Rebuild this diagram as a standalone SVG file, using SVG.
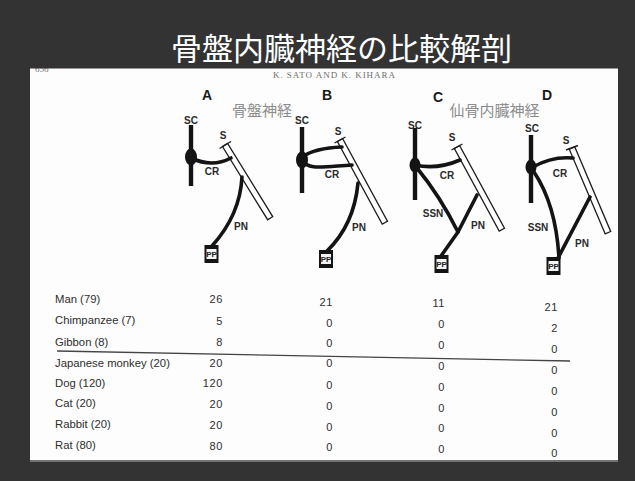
<svg xmlns="http://www.w3.org/2000/svg" width="635" height="481" viewBox="0 0 635 481">
  <defs>
    <style>
      .nerve { fill: none; stroke: #141414; stroke-width: 3.6; stroke-linecap: round; stroke-linejoin: round; }
      .cord { fill: none; stroke: #141414; stroke-width: 4.4; stroke-linecap: butt; }
      .gang { fill: #141414; }
      .bar { fill: #ffffff; stroke: #1e1e1e; stroke-width: 1.3; }
      .tick { stroke: #1e1e1e; stroke-width: 1.4; }
      .lbl { font-family: "Liberation Sans", Arial, sans-serif; font-size: 10px; font-weight: bold; fill: #2a2a2a; text-anchor: middle; }
      .col { font-family: "Liberation Sans", Arial, sans-serif; font-size: 14px; font-weight: bold; fill: #1a1a1a; text-anchor: middle; }
      .jp { font-family: "Noto Sans CJK JP", "Noto Sans CJK SC", sans-serif; font-size: 15px; fill: #8c8c8c; text-anchor: middle; }
      .pp { font-family: "Liberation Sans", Arial, sans-serif; font-size: 8px; font-weight: bold; fill: #222; text-anchor: middle; }
      .row { font-family: "Liberation Sans", Arial, sans-serif; font-size: 11.3px; fill: #2e2e2e; }
      .num { font-family: "Liberation Sans", Arial, sans-serif; font-size: 11px; fill: #2e2e2e; text-anchor: end; letter-spacing: 0.6px; }
      .head { font-family: "Liberation Serif", "Times New Roman", serif; font-size: 9px; fill: #6e6e6e; }
    </style>
    <g id="ppbox">
      <rect x="0" y="0" width="14" height="18" fill="#151515"/>
      <rect x="2" y="4" width="10" height="10" fill="#f4f4f4"/>
      <text class="pp" x="7" y="12.3">PP</text>
    </g>
  </defs>

  <!-- slide background and page -->
  <rect x="0" y="0" width="635" height="481" fill="#333333"/>
  <rect x="30" y="68" width="588" height="392" fill="#fdfdfd"/>
  <line x1="30" y1="461" x2="618" y2="461" stroke="#8a8a8a" stroke-width="1.5"/>

  <!-- running head, partly hidden under the title band -->
  <text class="head" x="35" y="71.5">656</text>
  <text class="head" x="273" y="77.5" textLength="122">K. SATO AND K. KIHARA</text>
  <rect x="0" y="0" width="635" height="68.5" fill="#333333"/>

  <!-- title -->
  <text x="341.5" y="59.5" font-family="Noto Sans CJK JP, Noto Sans CJK SC, sans-serif" font-size="31" fill="#ffffff" text-anchor="middle">骨盤内臓神経の比較解剖</text>

  <!-- group labels -->
  <text class="jp" x="262" y="116">骨盤神経</text>
  <text class="jp" x="494.5" y="116">仙骨内臓神経</text>

  <!-- pattern A -->
  <g id="pattern-a">
    <text class="col" x="207" y="100">A</text>
    <line class="cord" x1="191" y1="125" x2="191" y2="186"/>
    <ellipse class="gang" cx="191" cy="157" rx="6" ry="8.5"/>
    <rect class="bar" x="0" y="-3" width="86" height="6" transform="translate(225,145) rotate(58.3)"/>
    <line class="tick" x1="219.5" y1="148.5" x2="231" y2="141.5"/>
    <text class="lbl" x="191" y="124">SC</text>
    <text class="lbl" x="223" y="139">S</text>
    <text class="lbl" x="212" y="175">CR</text>
    <text class="lbl" x="241" y="230">PN</text>
    <use href="#ppbox" x="204.5" y="245"/>
  </g>

  <!-- pattern B -->
  <g id="pattern-b">
    <text class="col" x="327" y="100">B</text>
    <line class="cord" x1="302" y1="127" x2="302" y2="193"/>
    <ellipse class="gang" cx="302" cy="160" rx="6" ry="8.5"/>
    <rect class="bar" x="0" y="-3" width="94" height="6" transform="translate(340,140) rotate(61.5)"/>
    <line class="tick" x1="334.5" y1="143" x2="345.5" y2="137"/>
    <text class="lbl" x="302" y="124">SC</text>
    <text class="lbl" x="338" y="135">S</text>
    <text class="lbl" x="332" y="178">CR</text>
    <text class="lbl" x="359" y="231">PN</text>
    <use href="#ppbox" x="319" y="250"/>
  </g>

  <!-- pattern C -->
  <g id="pattern-c">
    <text class="col" x="438" y="102">C</text>
    <line class="cord" x1="415" y1="128" x2="415" y2="200"/>
    <ellipse class="gang" cx="415" cy="165" rx="5.5" ry="7.5"/>
    <rect class="bar" x="0" y="-3" width="94" height="6" transform="translate(457,147) rotate(61.5)"/>
    <line class="tick" x1="451.5" y1="150" x2="462.5" y2="144"/>
    <text class="lbl" x="415" y="129">SC</text>
    <text class="lbl" x="452" y="141">S</text>
    <text class="lbl" x="447" y="179">CR</text>
    <text class="lbl" x="433" y="217">SSN</text>
    <text class="lbl" x="478" y="229">PN</text>
    <use href="#ppbox" x="434.5" y="255"/>
  </g>

  <!-- pattern D -->
  <g id="pattern-d">
    <text class="col" x="547" y="100">D</text>
    <line class="cord" x1="531" y1="135" x2="531" y2="203"/>
    <ellipse class="gang" cx="531" cy="167" rx="5.5" ry="7.5"/>
    <rect class="bar" x="0" y="-3" width="92" height="6" transform="translate(572,148) rotate(67)"/>
    <line class="tick" x1="566" y1="150" x2="578" y2="145.5"/>
    <text class="lbl" x="532" y="132">SC</text>
    <text class="lbl" x="566" y="144">S</text>
    <text class="lbl" x="560" y="177">CR</text>
    <text class="lbl" x="538" y="231">SSN</text>
    <text class="lbl" x="582" y="247">PN</text>
    <use href="#ppbox" x="546.5" y="257"/>
  </g>

  <!-- nerve connectors -->
  <g id="connectors">
    <!-- A -->
    <path class="nerve" d="M191,158 Q212,168 231,158"/>
    <path class="nerve" d="M242,177 Q240,215 212,246"/>
    <!-- B -->
    <path class="nerve" d="M302,157 Q315,148 342,147"/>
    <path class="nerve" d="M302,160 C308,170 320,167 352,165"/>
    <path class="nerve" d="M358,183 Q354,225 327,251"/>
    <!-- C -->
    <path class="nerve" d="M415,165 Q437,170 460,160"/>
    <path class="nerve" d="M417,168 Q440,196 458,232"/>
    <path class="nerve" d="M477,195 L458,232 L441,256"/>
    <!-- D -->
    <path class="nerve" d="M533,167 Q552,156 573,158"/>
    <path class="nerve" d="M534,172 Q556,205 559,258"/>
    <path class="nerve" d="M590,197 L558,258"/>
  </g>

  <!-- incidence table -->
  <g id="table">
    <text class="row" x="55" y="303">Man (79)</text>
    <text class="row" x="55" y="324">Chimpanzee (7)</text>
    <text class="row" x="55" y="346">Gibbon (8)</text>
    <text class="row" x="55" y="367">Japanese monkey (20)</text>
    <text class="row" x="55" y="387">Dog (120)</text>
    <text class="row" x="55" y="407">Cat (20)</text>
    <text class="row" x="55" y="428">Rabbit (20)</text>
    <text class="row" x="55" y="449">Rat (80)</text>

    <line x1="57" y1="351" x2="570" y2="361" stroke="#444" stroke-width="1.3"/>

    <text class="num" x="223" y="303">26</text>
    <text class="num" x="223" y="325">5</text>
    <text class="num" x="223" y="346">8</text>
    <text class="num" x="223" y="367">20</text>
    <text class="num" x="223" y="387">120</text>
    <text class="num" x="223" y="408">20</text>
    <text class="num" x="223" y="429">20</text>
    <text class="num" x="223" y="450">80</text>

    <text class="num" x="333" y="306">21</text>
    <text class="num" x="333" y="327">0</text>
    <text class="num" x="333" y="347">0</text>
    <text class="num" x="333" y="367">0</text>
    <text class="num" x="333" y="389">0</text>
    <text class="num" x="333" y="410">0</text>
    <text class="num" x="333" y="431">0</text>
    <text class="num" x="333" y="451">0</text>

    <text class="num" x="445" y="307">11</text>
    <text class="num" x="445" y="328">0</text>
    <text class="num" x="445" y="349">0</text>
    <text class="num" x="445" y="370">0</text>
    <text class="num" x="445" y="391">0</text>
    <text class="num" x="445" y="412">0</text>
    <text class="num" x="445" y="432">0</text>
    <text class="num" x="445" y="453">0</text>

    <text class="num" x="558" y="311">21</text>
    <text class="num" x="558" y="332">2</text>
    <text class="num" x="558" y="353">0</text>
    <text class="num" x="558" y="374">0</text>
    <text class="num" x="558" y="395">0</text>
    <text class="num" x="558" y="416">0</text>
    <text class="num" x="558" y="437">0</text>
    <text class="num" x="558" y="457">0</text>
  </g>
</svg>
